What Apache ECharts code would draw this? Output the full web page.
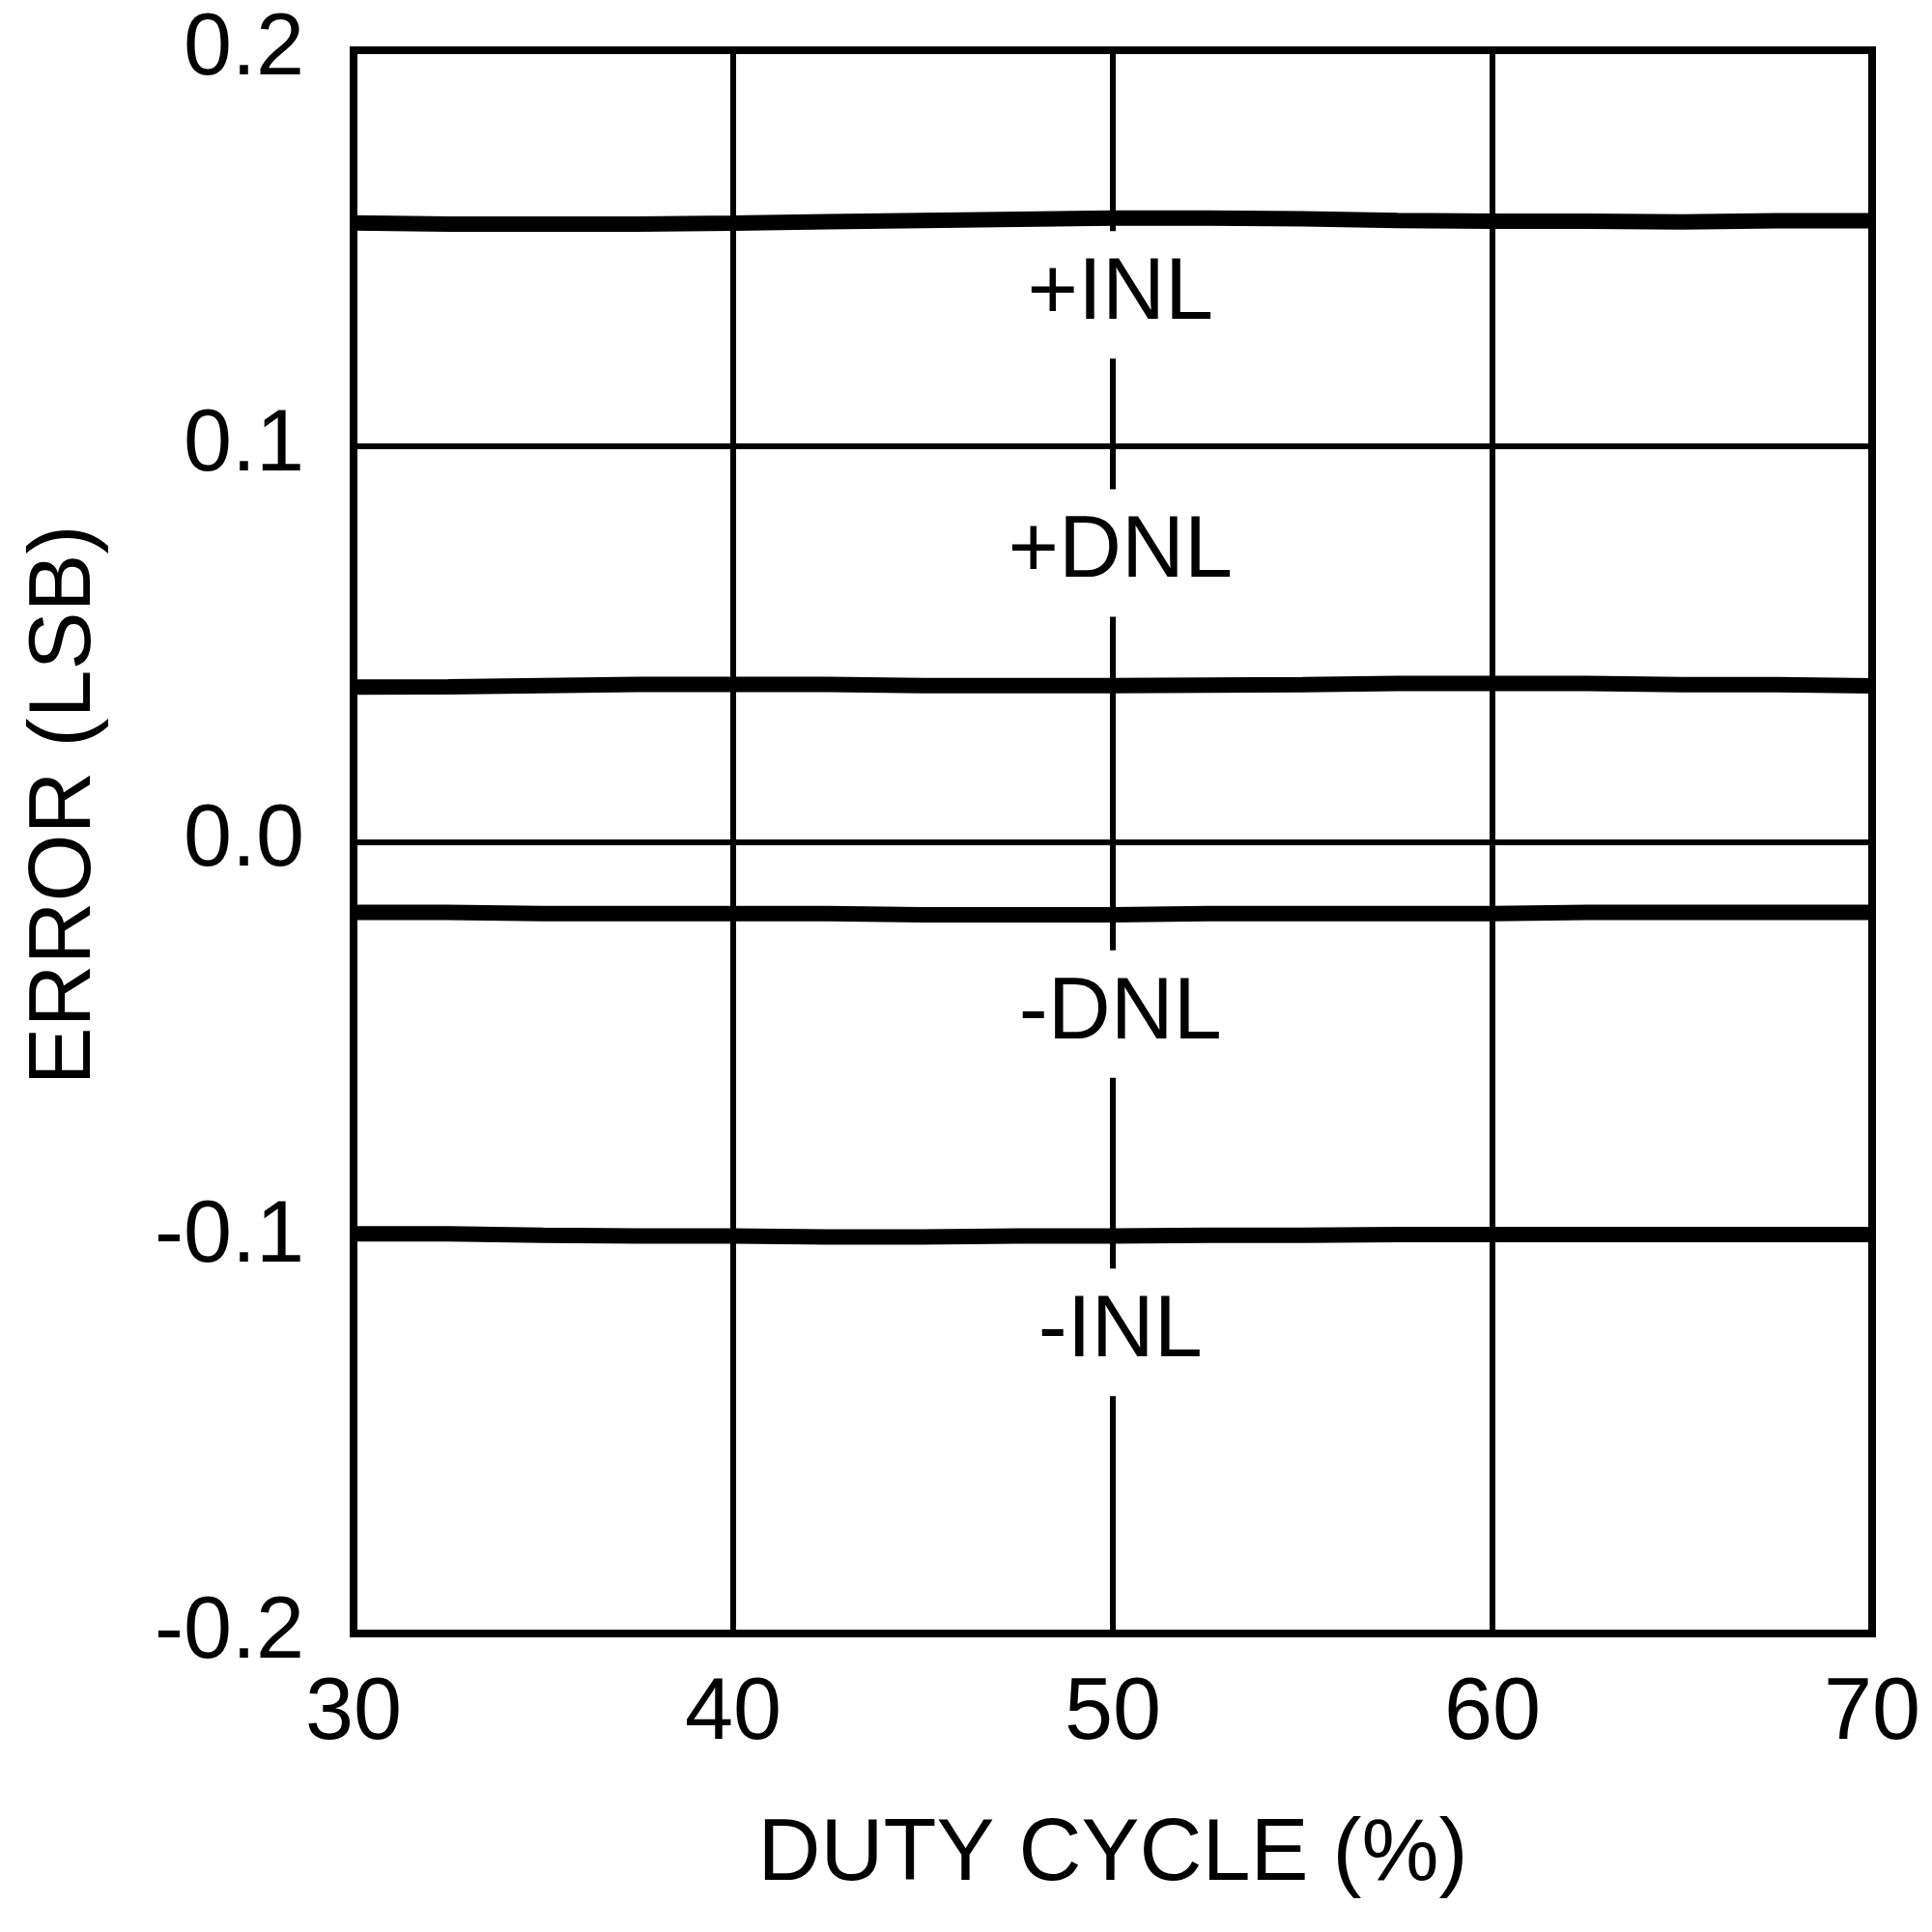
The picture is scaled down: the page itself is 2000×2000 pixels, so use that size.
<!DOCTYPE html>
<html>
<head>
<meta charset="utf-8">
<script src="https://cdn.jsdelivr.net/npm/echarts@6/dist/echarts.min.js"></script>
<style>
html,body{margin:0;padding:0;background:#fff;}
#chart{width:2000px;height:2000px;}
</style>
</head>
<body>
<div id="chart"></div>
<script>
// Duty cycle (%) sample points
const dutyCycle = [30, 32.5, 35, 37.5, 40, 42.5, 45, 47.5, 50, 52.5, 55, 57.5, 60, 62.5, 65, 67.5, 70];
// Error (LSB) series
const posINL = [0.1564, 0.1561, 0.1561, 0.1561, 0.1563, 0.1567, 0.1570, 0.1573, 0.1576, 0.1576, 0.1574, 0.1570, 0.1568, 0.1568, 0.1566, 0.1569, 0.1569];
const posDNL = [0.0391, 0.0392, 0.0395, 0.0398, 0.0398, 0.0398, 0.0395, 0.0395, 0.0395, 0.0396, 0.0397, 0.0400, 0.0400, 0.0400, 0.0397, 0.0397, 0.0394];
const negDNL = [-0.0178, -0.0178, -0.0181, -0.0181, -0.0181, -0.0181, -0.0184, -0.0184, -0.0184, -0.0181, -0.0181, -0.0181, -0.0181, -0.0178, -0.0178, -0.0178, -0.0178];
const negINL = [-0.0990, -0.0990, -0.0994, -0.0996, -0.0996, -0.0998, -0.0998, -0.0996, -0.0996, -0.0994, -0.0994, -0.0992, -0.0992, -0.0992, -0.0992, -0.0992, -0.0992];
// Tick labels
const xTickLabels = ['30', '40', '50', '60', '70'];
const yTickLabels = ['-0.2', '-0.1', '0.0', '0.1', '0.2'];
// Curve annotations (text, x, y in data units)
const curveNames = ['+INL', '+DNL', '-DNL', '-INL'];
const curveLabelX = [50.2, 50.2, 50.2, 50.2];
const curveLabelY = [0.1382, 0.0730, -0.0435, -0.1239];

const FONT = "'Liberation Sans', Arial, Helvetica, sans-serif";
const seriesData = [posINL, posDNL, negDNL, negINL];

const series = seriesData.map((vals, i) => ({
  type: 'line',
  name: curveNames[i],
  data: dutyCycle.map((x, j) => [x, vals[j]]),
  showSymbol: false,
  symbol: 'none',
  smooth: false,
  lineStyle: { color: '#000', width: 16 },
  z: 3,
  markPoint: {
    symbol: 'circle',
    symbolSize: 0,
    silent: true,
    z: 5,
    label: {
      show: true,
      position: 'inside',
      formatter: curveNames[i],
      color: '#000',
      fontFamily: FONT,
      fontSize: 90,
      lineHeight: 80,
      backgroundColor: '#fff',
      padding: [0, 10, 52, 10]
    },
    data: [{ coord: [curveLabelX[i], curveLabelY[i]] }]
  }
}));

const chart = echarts.init(document.getElementById('chart'), null, { renderer: 'canvas' });
chart.setOption({
  animation: false,
  backgroundColor: '#fff',
  grid: {
    left: 366, right: 62, top: 52, bottom: 309,
    show: true, borderColor: '#000', borderWidth: 8, backgroundColor: 'transparent',
    z: 4
  },
  xAxis: {
    type: 'value',
    min: 30, max: 70, interval: 10,
    name: 'DUTY CYCLE (%)',
    nameLocation: 'middle',
    nameGap: 185,
    nameTextStyle: { fontFamily: FONT, fontSize: 90, color: '#000' },
    axisLine: { show: false },
    axisTick: { show: false },
    axisLabel: {
      margin: 39, fontFamily: FONT, fontSize: 90, color: '#000',
      formatter: v => xTickLabels[Math.round((v - 30) / 10)]
    },
    splitLine: { show: true, lineStyle: { color: '#000', width: 6 } }
  },
  yAxis: {
    type: 'value',
    min: -0.2, max: 0.2, interval: 0.1,
    name: 'ERROR (LSB)',
    nameLocation: 'middle',
    nameRotate: 90,
    nameGap: 253,
    nameTextStyle: { fontFamily: FONT, fontSize: 90, color: '#000', padding: [0, 0, 0, 76] },
    axisLine: { show: false },
    axisTick: { show: false },
    axisLabel: {
      margin: 51, fontFamily: FONT, fontSize: 90, color: '#000',
      formatter: v => yTickLabels[Math.round((v + 0.2) / 0.1)]
    },
    splitLine: { show: true, lineStyle: { color: '#000', width: 6 } }
  },
  series: series
});
</script>
</body>
</html>
